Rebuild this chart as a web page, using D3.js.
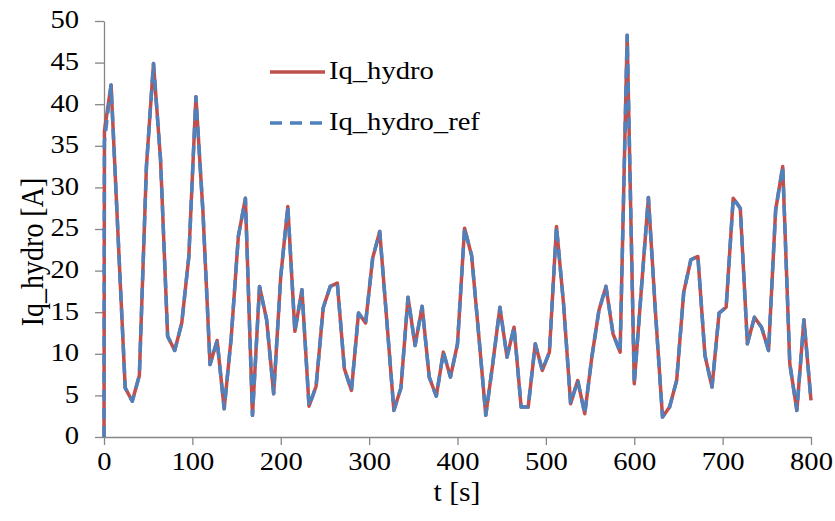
<!DOCTYPE html>
<html>
<head>
<meta charset="utf-8">
<script src="https://cdn.jsdelivr.net/npm/d3@7"></script>
<style>
  html, body { margin: 0; padding: 0; background: #fff; }
  svg { display: block; }
</style>
</head>
<body>
<div id="chart"></div>
<script>
// ---- data ----
const timeS = [0, 0.5, 8, 16, 24, 32, 40, 48, 56, 64, 72, 80, 88, 96, 104, 112, 120, 128, 136, 144, 152, 160,
  168, 176, 184, 192, 200, 208, 216, 224, 232, 240, 248, 256, 264, 272, 280, 288, 296, 304, 312, 320,
  328, 336, 344, 352, 360, 368, 376, 384, 392, 400, 408, 416, 424, 432, 440, 448, 456, 464, 472, 480,
  488, 496, 504, 512, 520, 528, 536, 544, 552, 560, 568, 576, 584, 592, 600, 608, 616, 624, 632, 640,
  648, 656, 664, 672, 680, 688, 696, 704, 712, 720, 728, 736, 744, 752, 760, 768, 776, 784, 792, 800];

const iqHydro = [0, 36.8, 42.3, 24, 5.9, 4.3, 7.4, 32.5, 44.9, 33.3, 12.1, 10.4, 13.7, 21.7, 40.9, 27, 8.7, 11.6, 3.4, 12, 24.1, 28.7,
  2.6, 18.1, 14.1, 5.2, 19.3, 27.7, 12.7, 17.7, 3.7, 6.1, 15.5, 18.1, 18.5, 8.2, 5.6, 14.9, 13.7, 21.5, 24.7, 14,
  3.2, 5.9, 16.8, 11, 15.7, 7.2, 4.9, 10.2, 7.2, 11.2, 25.1, 21.8, 12.3, 2.6, 8.9, 15.6, 9.6, 13.2, 3.6, 3.6,
  11.2, 8, 10.2, 25.3, 16, 4, 6.8, 2.8, 9.6, 15.2, 18.1, 12.4, 10.2, 48.3, 6.4, 17.7, 28.8, 15, 2.4, 3.6,
  6.8, 17.4, 21.3, 21.7, 9.8, 6, 14.9, 15.6, 28.7, 27.5, 11.2, 14.4, 13.2, 10.4, 27.3, 32.5, 8.8, 3.2, 14.1, 4.4];

const iqHydroRef = [0, 35.5, 42.3, 24, 5.9, 4.3, 7.4, 32.5, 44.9, 33.3, 12.1, 10.4, 13.7, 21.7, 40.9, 27, 8.7, 11.6, 3.4, 12, 24.1, 28.7,
  2.6, 18.1, 14.1, 5.2, 19.3, 27.7, 12.7, 17.7, 3.7, 6.1, 15.5, 18.1, 18.5, 8.2, 5.6, 14.9, 13.7, 21.5, 24.7, 14,
  3.2, 5.9, 16.8, 11, 15.7, 7.2, 4.9, 10.2, 7.2, 11.2, 25.1, 21.8, 12.3, 2.6, 8.9, 15.6, 9.6, 13.2, 3.6, 3.6,
  11.2, 8, 10.2, 25.3, 16, 4, 6.8, 2.8, 9.6, 15.2, 18.1, 12.4, 10.2, 48.3, 6.4, 17.7, 28.8, 15, 2.4, 3.6,
  6.8, 17.4, 21.3, 21.7, 9.8, 6, 14.9, 15.6, 28.7, 27.5, 11.2, 14.4, 13.2, 10.4, 27.3, 32.5, 8.8, 3.2, 14.1, 4.4];

const xTicks = [0, 100, 200, 300, 400, 500, 600, 700, 800];
const yTicks = [0, 5, 10, 15, 20, 25, 30, 35, 40, 45, 50];
const seriesNames = ["Iq_hydro", "Iq_hydro_ref"];
const xTitle = "t [s]";
const yTitle = "Iq_hydro [A]";

// ---- layout ----
const W = 835, H = 521;
const mLeft = 104, mRight = 811, mTop = 21, mBottom = 437;
const RED = "#c0504d", BLUE = "#4f81bd", AXIS = "#868686";
const FONT = "'Liberation Serif', 'Times New Roman', Tinos, serif";
const SX = 1.1; // horizontal text stretch

const svg = d3.select("#chart").append("svg").attr("width", W).attr("height", H);

const x = d3.scaleLinear().domain([0, 800]).range([mLeft, mRight]);
const y = d3.scaleLinear().domain([0, 50]).range([mBottom, mTop]);

// axes
const xAxis = svg.append("g").attr("transform", `translate(0,${mBottom})`)
  .call(d3.axisBottom(x).tickValues(xTicks).tickSize(8).tickSizeOuter(0).tickFormat(d3.format("d")));
const yAxis = svg.append("g").attr("transform", `translate(${mLeft},0)`)
  .call(d3.axisLeft(y).tickValues(yTicks).tickSize(9).tickSizeOuter(0).tickFormat(d3.format("d")));

[xAxis, yAxis].forEach(g => {
  g.select(".domain").attr("stroke", AXIS).attr("stroke-width", 1.3);
  g.selectAll(".tick line").attr("stroke", AXIS).attr("stroke-width", 1.3);
  g.selectAll(".tick text").style("font-family", FONT).style("font-size", "26px").attr("fill", "#000");
});
xAxis.selectAll(".tick text").attr("y", 0).attr("dy", 0)
  .attr("transform", `translate(0,27) scale(${SX},1)`).attr("dominant-baseline", "middle");
yAxis.selectAll(".tick text").attr("x", 0).attr("dy", 0)
  .attr("transform", `translate(-25,1) scale(${SX},1)`).attr("dominant-baseline", "middle");

// lines
const line = d3.line().x((d, i) => x(timeS[i])).y(d => y(d));
svg.append("path").datum(iqHydro).attr("d", line)
  .attr("fill", "none").attr("stroke", RED).attr("stroke-width", 3.5).attr("stroke-linejoin", "round");
svg.append("path").datum(iqHydroRef).attr("d", line)
  .attr("fill", "none").attr("stroke", BLUE).attr("stroke-width", 3.5).attr("stroke-linejoin", "round")
  .attr("stroke-dasharray", "11,7");

// axis titles
svg.append("text").attr("transform", `translate(457,495) scale(${SX},1)`)
  .attr("text-anchor", "middle").attr("dominant-baseline", "middle")
  .style("font-family", FONT).style("font-size", "27px").text(xTitle);
svg.append("text").attr("transform", `translate(36,252) rotate(-90) scale(1,${SX})`)
  .attr("text-anchor", "middle").attr("dominant-baseline", "middle")
  .style("font-family", FONT).style("font-size", "28px").text(yTitle);

// legend
const legY = [72, 123];
const legend = svg.append("g");
legend.append("line").attr("x1", 270).attr("x2", 325).attr("y1", legY[0]).attr("y2", legY[0])
  .attr("stroke", RED).attr("stroke-width", 3.5);
legend.append("line").attr("x1", 270).attr("x2", 325).attr("y1", legY[1]).attr("y2", legY[1])
  .attr("stroke", BLUE).attr("stroke-width", 3.5).attr("stroke-dasharray", "12,8");
seriesNames.forEach((n, i) => {
  legend.append("text").attr("transform", `translate(329,${legY[i] + 1}) scale(${SX},1)`)
    .attr("dominant-baseline", "middle")
    .style("font-family", FONT).style("font-size", "26px").text(n);
});
</script>
</body>
</html>
